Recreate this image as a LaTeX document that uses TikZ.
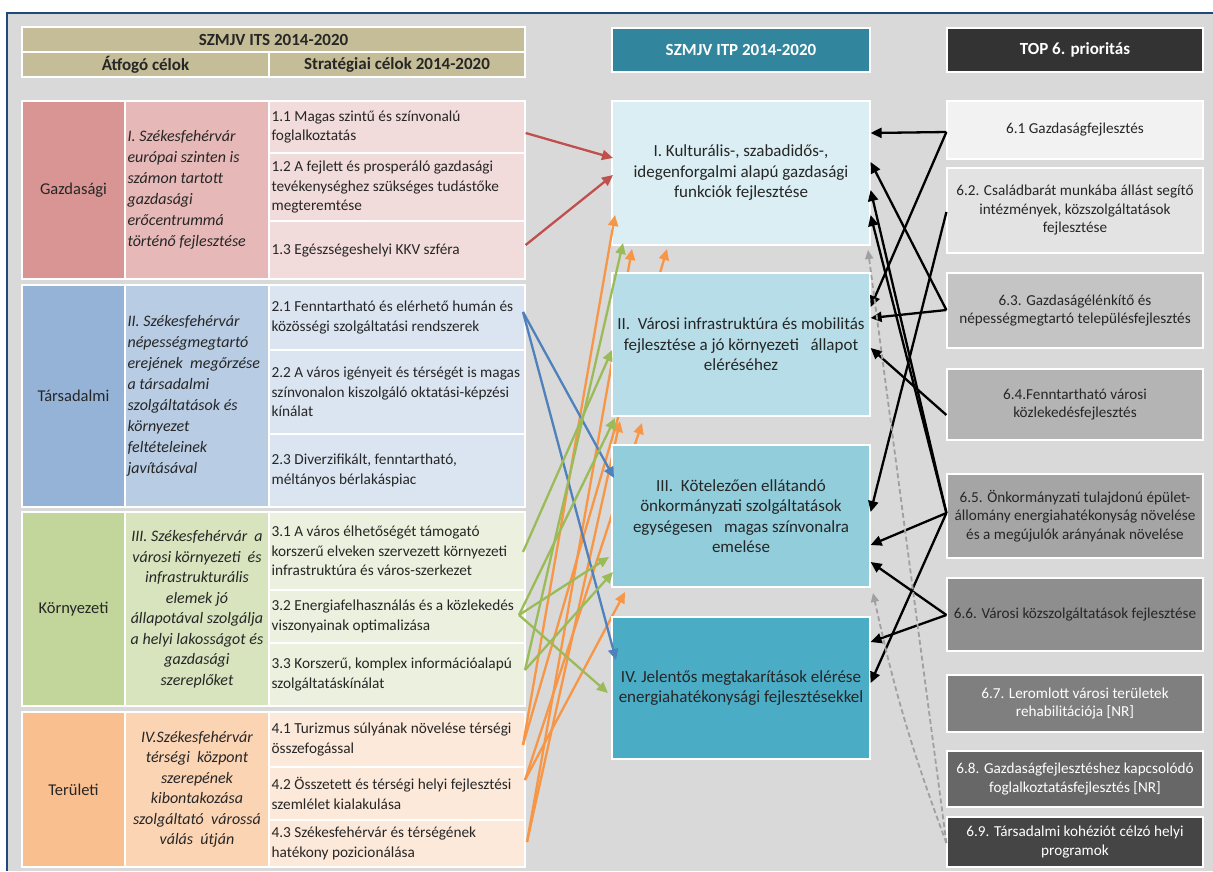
\documentclass[tikz,border=0pt]{standalone}
\usepackage{fontspec}
\setmainfont{Carlito}
\usetikzlibrary{arrows.meta,fit}
\definecolor{bgc}{HTML}{D9D9D9}
\definecolor{framec}{HTML}{1F497D}
\definecolor{ink}{HTML}{262626}
\definecolor{hdr}{HTML}{C4BD97}
\definecolor{itpc}{HTML}{31859C}
\definecolor{topc}{HTML}{333333}
\definecolor{ga}{HTML}{D99594}
\definecolor{gb}{HTML}{E6B8B7}
\definecolor{gc}{HTML}{F2DCDB}
\definecolor{ta}{HTML}{95B3D7}
\definecolor{tb}{HTML}{B8CCE4}
\definecolor{tc}{HTML}{DBE5F1}
\definecolor{ka}{HTML}{C2D69B}
\definecolor{kb}{HTML}{D7E4BD}
\definecolor{kc}{HTML}{EBF1DE}
\definecolor{ra}{HTML}{FABF8F}
\definecolor{rb}{HTML}{FBD4B4}
\definecolor{rc}{HTML}{FDE9D9}
\definecolor{ma}{HTML}{DAEEF3}
\definecolor{mb}{HTML}{B7DDE8}
\definecolor{mc}{HTML}{92CDDC}
\definecolor{md}{HTML}{4BACC6}
\definecolor{prA}{HTML}{F2F2F2}
\definecolor{prB}{HTML}{E3E3E3}
\definecolor{prC}{HTML}{C4C4C4}
\definecolor{prD}{HTML}{B4B4B4}
\definecolor{prE}{HTML}{A5A5A5}
\definecolor{prF}{HTML}{8E8E8E}
\definecolor{prG}{HTML}{7F7F7F}
\definecolor{prH}{HTML}{676767}
\definecolor{prI}{HTML}{454545}
\definecolor{redc}{HTML}{C0504D}
\definecolor{bluec}{HTML}{4F81BD}
\definecolor{greenc}{HTML}{9BBB59}
\definecolor{orc}{HTML}{F79646}
\definecolor{dgrey}{HTML}{A0A0A0}
\begin{document}
\begin{tikzpicture}[x=1pt,y=-1pt,
  cell/.style={draw=white,line width=1.2pt,inner sep=0pt},
  txt/.style={inner sep=0pt,text=ink},
  tA/.style={txt,font=\fontsize{16.5}{20}\selectfont},
  tBl/.style={txt,font=\fontsize{16}{21}\selectfont\itshape,align=left,anchor=west},
  tBc/.style={txt,font=\fontsize{16}{20.5}\selectfont\itshape,align=center},
  tC/.style={txt,font=\fontsize{15.3}{19.5}\selectfont,align=left,anchor=west},
  tH/.style={txt,font=\fontsize{17}{20}\selectfont\bfseries},
  tM/.style={txt,font=\fontsize{17}{20.5}\selectfont,align=center},
  tP/.style={txt,font=\fontsize{15.2}{18.5}\selectfont,align=center},
  conn/.style={line width=2.3pt,-{Triangle[length=11pt,width=10pt]}},
  dconn/.style={line width=1.8pt,draw=dgrey,dash pattern=on 5pt off 3pt,-{Triangle[length=9pt,width=8pt]}}
]
\useasboundingbox (0,0) rectangle (1213,871);
\fill[white] (0,0) rectangle (1213,871);
\fill[bgc] (7,13) rectangle (1213,871);
\draw[framec,line width=2.5pt] (7,871) -- (7,13) -- (1213,13);

% ---------- header boxes
\node[cell,fill=hdr,fit={(22,27) (525,52)}] (its) {};
\node[cell,fill=hdr,fit={(22,52) (269,77)}] (atf) {};
\node[cell,fill=hdr,fit={(269,52) (525,77)}] (strat) {};
\node[cell,fill=itpc,fit={(612,28) (870,72)}] (itp) {};
\node[cell,fill=topc,fit={(947,28) (1203,72)}] (topp) {};
\node[tH] (itsT) at (its.center) {SZMJV ITS 2014-2020};
\node[tH] (atfT) at (atf.center) {Átfogó célok};
\node[tH] (stratT) at (strat.center) {Stratégiai célok 2014-2020};
\node[tH,text=white] (itpT) at (itp.center) {SZMJV ITP 2014-2020};
\node[tH,text=white] (toppT) at (topp.center) {TOP 6. prioritás};

% ---------- left table cells
\node[cell,fill=ga,fit={(22,101) (125,279)}] (gaz) {};
\node[cell,fill=gb,fit={(125,101) (269,279)}] (gazc) {};
\node[cell,fill=gc,fit={(269,101) (525,153)}] (c11) {};
\node[cell,fill=gc,fit={(269,153) (525,221)}] (c12) {};
\node[cell,fill=gc,fit={(269,221) (525,279)}] (c13) {};
\node[cell,fill=ta,fit={(22,285) (125,507)}] (tar) {};
\node[cell,fill=tb,fit={(125,285) (269,507)}] (tarc) {};
\node[cell,fill=tc,fit={(269,285) (525,350)}] (c21) {};
\node[cell,fill=tc,fit={(269,350) (525,434)}] (c22) {};
\node[cell,fill=tc,fit={(269,434) (525,507)}] (c23) {};
\node[cell,fill=ka,fit={(22,512) (125,706)}] (kor) {};
\node[cell,fill=kb,fit={(125,512) (269,706)}] (korc) {};
\node[cell,fill=kc,fit={(269,512) (525,590)}] (c31) {};
\node[cell,fill=kc,fit={(269,590) (525,643)}] (c32) {};
\node[cell,fill=kc,fit={(269,643) (525,706)}] (c33) {};
\node[cell,fill=ra,fit={(22,712) (125,867)}] (ter) {};
\node[cell,fill=rb,fit={(125,712) (269,867)}] (terc) {};
\node[cell,fill=rc,fit={(269,712) (525,767)}] (c41) {};
\node[cell,fill=rc,fit={(269,767) (525,820)}] (c42) {};
\node[cell,fill=rc,fit={(269,820) (525,867)}] (c43) {};

% ---------- left table texts
\node[tA] (gazT) at (gaz.center) {Gazdasági};
\node[tA] (tarT) at (tar.center) {Társadalmi};
\node[tA] (korT) at (kor.center) {Környezeti};
\node[tA] (terT) at (ter.center) {Területi};
\node[tBl] (gazcT) at ([xshift=3pt]gazc.west) {I. Székesfehérvár\\európai szinten is\\számon tartott\\gazdasági\\erőcentrummá\\történő fejlesztése};
\node[tBl] (tarcT) at ([xshift=3pt]tarc.west) {II. Székesfehérvár\\népességmegtartó\\erejének\ \ megőrzése\\a társadalmi\\szolgáltatások és\\környezet\\feltételeinek\\javításával};
\node[tBc] (korcT) at (korc.center) {III. Székesfehérvár\ \ a\\városi környezeti\ \ és\\infrastrukturális\\elemek jó\\állapotával szolgálja\\a helyi lakosságot és\\gazdasági\\szereplőket};
\node[tBc] (tercT) at (terc.center) {IV.Székesfehérvár\\térségi\ \ központ\\szerepének\\kibontakozása\\szolgáltató\ \ várossá\\válás\ \ útján};
\node[tC] (c11T) at ([xshift=3pt]c11.west) {1.1 Magas szintű és színvonalú\\foglalkoztatás};
\node[tC] (c12T) at ([xshift=3pt]c12.west) {1.2 A fejlett és prosperáló gazdasági\\tevékenységhez szükséges tudástőke\\megteremtése};
\node[tC] (c13T) at ([xshift=3pt]c13.west) {1.3 Egészségeshelyi KKV szféra};
\node[tC] (c21T) at ([xshift=3pt]c21.west) {2.1 Fenntartható és elérhető humán és\\közösségi szolgáltatási rendszerek};
\node[tC] (c22T) at ([xshift=3pt]c22.west) {2.2 A város igényeit és térségét is magas\\színvonalon kiszolgáló oktatási-képzési\\kínálat};
\node[tC] (c23T) at ([xshift=3pt]c23.west) {2.3 Diverzifikált, fenntartható,\\méltányos bérlakáspiac};
\node[tC] (c31T) at ([xshift=3pt]c31.west) {3.1 A város élhetőségét támogató\\korszerű elveken szervezett környezeti\\infrastruktúra és város-szerkezet};
\node[tC] (c32T) at ([xshift=3pt]c32.west) {3.2 Energiafelhasználás és a közlekedés\\viszonyainak optimalizása};
\node[tC] (c33T) at ([xshift=3pt]c33.west) {3.3 Korszerű, komplex információalapú\\szolgáltatáskínálat};
\node[tC] (c41T) at ([xshift=3pt]c41.west) {4.1 Turizmus súlyának növelése térségi\\összefogással};
\node[tC] (c42T) at ([xshift=3pt]c42.west) {4.2 Összetett és térségi helyi fejlesztési\\szemlélet kialakulása};
\node[tC] (c43T) at ([xshift=3pt]c43.west) {4.3 Székesfehérvár és térségének\\hatékony pozicionálása};

% ---------- right column
\node[cell,fill=prA,fit={(947,101) (1203,159)}] (p61) {};
\node[cell,fill=prB,fit={(947,168) (1203,253)}] (p62) {};
\node[cell,fill=prC,fit={(947,273) (1203,348)}] (p63) {};
\node[cell,fill=prD,fit={(947,369) (1203,440)}] (p64) {};
\node[cell,fill=prE,fit={(947,474) (1203,558)}] (p65) {};
\node[cell,fill=prF,fit={(947,578) (1203,651)}] (p66) {};
\node[cell,fill=prG,fit={(947,675) (1203,732)}] (p67) {};
\node[cell,fill=prH,fit={(947,751) (1203,807)}] (p68) {};
\node[cell,fill=prI,fit={(947,817) (1203,867)}] (p69) {};
\node[tP] (p61T) at (p61.center) {6.1 Gazdaságfejlesztés};
\node[tP] (p62T) at (p62.center) {6.2. Családbarát munkába állást segítő\\intézmények, közszolgáltatások\\fejlesztése};
\node[tP] (p63T) at (p63.center) {6.3. Gazdaságélénkítő és\\népességmegtartó településfejlesztés};
\node[tP] (p64T) at (p64.center) {6.4.Fenntartható városi\\közlekedésfejlesztés};
\node[tP] (p65T) at (p65.center) {6.5. Önkormányzati tulajdonú épület-\\állomány energiahatékonyság növelése\\és a megújulók arányának növelése};
\node[tP] (p66T) at (p66.center) {6.6. Városi közszolgáltatások fejlesztése};
\node[tP,text=white] (p67T) at (p67.center) {6.7. Leromlott városi területek\\rehabilitációja [NR]};
\node[tP,text=white] (p68T) at (p68.center) {6.8. Gazdaságfejlesztéshez kapcsolódó\\foglalkoztatásfejlesztés [NR]};
\node[tP,text=white] (p69T) at (p69.center) {6.9. Társadalmi kohéziót célzó helyi\\programok};

% ---------- connector end points
\coordinate (s11) at (c11.east |- 0,133);
\coordinate (s13) at (c13.east |- 0,245);
\coordinate (s21) at (523,312);
\coordinate (s31) at (523,552);
\coordinate (s32) at (519,615);
\coordinate (s33) at (525,670);
\coordinate (s41) at (523,745);
\coordinate (s42) at (525,780);
\coordinate (s43) at (527,842);
\coordinate (r1t) at (613,158);
\coordinate (r2t) at (613,175);
\coordinate (b1t) at (614,478);
\coordinate (b2t) at (616,660);
\coordinate (g1t) at (612,350);
\coordinate (g2t) at (615,418);
\coordinate (g3t) at (609,557);
\coordinate (g4t) at (608,693);
\coordinate (g5t) at (623,243);
\coordinate (g6t) at (613,572);
\coordinate (o1t) at (615,215);
\coordinate (o2t) at (667,249);
\coordinate (o3t) at (632,249);
\coordinate (o4t) at (642,423);
\coordinate (o5t) at (625,592);
\coordinate (o6t) at (620,421);

% orange connectors that pass behind the ITP boxes
\draw[conn,orc] (s41) -- (o2t);
\draw[conn,orc] (s43) -- (o3t);
\draw[conn,orc] (s42) -- (o4t);
\draw[conn,orc] (s42) -- (o5t);
\draw[conn,orc] (s43) -- (o6t);

% ---------- middle boxes
\node[cell,fill=ma,fit={(612,101) (870,245)}] (bI) {};
\node[cell,fill=mb,fit={(612,273) (870,416)}] (bII) {};
\node[cell,fill=mc,fit={(612,445) (870,587)}] (bIII) {};
\node[cell,fill=md,fit={(612,617) (870,759)}] (bIV) {};
\node[tM] (bIT) at (bI.center) {I. Kulturális-, szabadidős-,\\idegenforgalmi alapú gazdasági\\funkciók fejlesztése};
\node[tM] (bIIT) at (bII.center) {II.\ \ Városi infrastruktúra és mobilitás\\fejlesztése a jó környezeti\ \ \ állapot\\eléréséhez};
\node[tM] (bIIIT) at (bIII.center) {III.\ \ Kötelezően ellátandó\\önkormányzati szolgáltatások\\egységesen\ \ \ magas színvonalra\\emelése};
\node[tM] (bIVT) at (bIV.center) {IV. Jelentős megtakarítások elérése\\energiahatékonysági fejlesztésekkel};

% colored connectors on top
\draw[conn,orc] (s41) -- (o1t);
\draw[conn,redc] (s11) -- (r1t);
\draw[conn,redc] (s13) -- (r2t);
\draw[conn,bluec] (s21) -- (b1t);
\draw[conn,bluec] (s21) -- (b2t);
\draw[conn,greenc] (s31) -- (g1t);
\draw[conn,greenc] (s32) -- (g2t);
\draw[conn,greenc] (s32) -- (g3t);
\draw[conn,greenc] (s32) -- (g4t);
\draw[conn,greenc] (s33) -- (g5t);
\draw[conn,greenc] (s33) -- (g6t);

% black connectors from TOP priorities
\draw[conn,black] (p61.west |- 0,132) -- (bI.east |- 0,133);
\draw[conn,black] (p61.west |- 0,132) -- (bII.east |- 0,307);
\draw[conn,black] (p62.west |- 0,212) -- (bIII.east |- 0,512);
\draw[conn,black] (p63.west |- 0,310) -- (bI.east |- 0,162);
\draw[conn,black] (p63.west |- 0,310) -- (bII.east |- 0,318);
\draw[conn,black] (p64.west |- 0,415) -- (bII.east |- 0,348);
\draw[conn,black] (p65.west |- 0,513) -- (bI.east |- 0,190);
\draw[conn,black] (p65.west |- 0,513) -- (bI.east |- 0,215);
\draw[conn,black] (p65.west |- 0,513) -- (bIII.east |- 0,545);
\draw[conn,black] (p65.west |- 0,513) -- (bIV.east |- 0,683);
\draw[conn,black] (p66.west |- 0,615) -- (bIII.east |- 0,562);
\draw[conn,black] (p66.west |- 0,615) -- (bIV.east |- 0,642);
% grey dashed connectors
\coordinate (d1t) at (868,250);
\coordinate (d2t) at (873,593);
\draw[dconn] (p69.west |- 0,843) -- (d1t);
\draw[dconn] (p69.west |- 0,843) to[bend left=4] (d2t);
\end{tikzpicture}
\end{document}
